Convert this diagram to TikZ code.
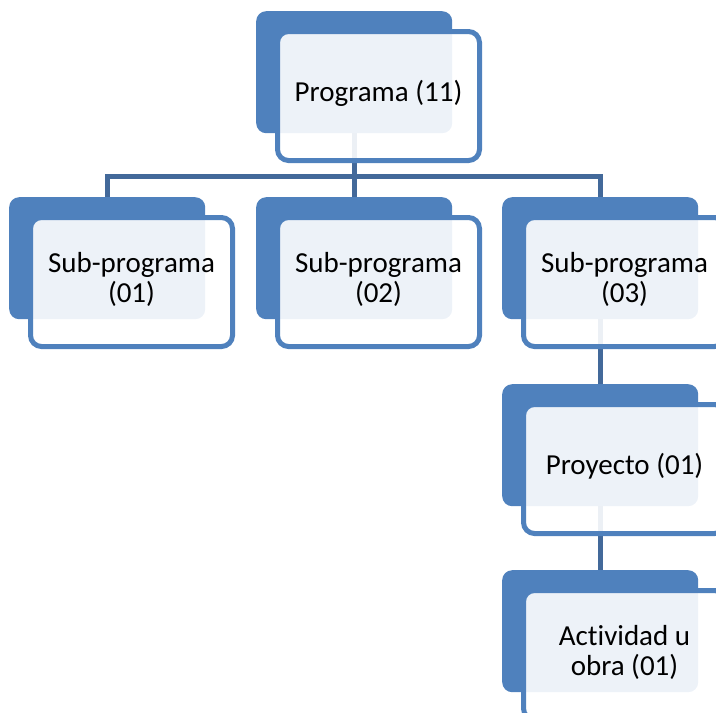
\documentclass[tikz,border=0pt]{standalone}
\usepackage{fontspec}
\setmainfont{Carlito}[Ligatures=NoCommon]
\usetikzlibrary{backgrounds}
\definecolor{accent}{HTML}{4F81BD}
\definecolor{linkblue}{HTML}{43699A}
\tikzset{
  backbox/.style={draw=none, fill=accent, rounded corners=10pt,
    minimum width=196pt, minimum height=122pt, inner sep=0pt, anchor=north west},
  frontbox/.style={draw=accent, line width=5pt, fill=white, fill opacity=0.9,
    text opacity=1, rounded corners=11pt, minimum width=202pt, minimum height=129pt,
    inner sep=0pt, anchor=north west, align=center, text depth=10pt,
    font=\fontsize{29}{30}\selectfont},
  link/.style={draw=linkblue, line width=5pt}
}
\begin{document}
\begin{tikzpicture}[x=1pt, y=-1pt]
  \useasboundingbox (0,0) rectangle (716,713);
  \clip (0,0) rectangle (716,713);

  % shaded back plates
  \node[backbox] (top) at (256,11)  {};
  \node[backbox] (s1)  at (9,197)   {};
  \node[backbox] (s2)  at (256,197) {};
  \node[backbox] (s3)  at (502,197) {};
  \node[backbox] (p1)  at (502,384) {};
  \node[backbox] (a1)  at (502,570) {};

  % framed text boxes in front
  \node[frontbox] (ftop) at (275,29)  {Programa (11)};
  \node[frontbox] (fs1)  at (28,215)  {Sub-programa\\(01)};
  \node[frontbox] (fs2)  at (275,215) {Sub-programa\\(02)};
  \node[frontbox] (fs3)  at (521,215) {Sub-programa\\(03)};
  \node[frontbox] (fp1)  at (521,402) {Proyecto (01)};
  \node[frontbox] (fa1)  at (521,588) {Actividad u\\obra (01)};

  % connectors behind the boxes
  \coordinate (bus) at (0,176);
  \begin{pgfonlayer}{background}
    \draw[link] (top.south) -- (top.south |- bus);
    \draw[link] (s1.north) |- (s3.north |- bus) -- (s3.north);
    \draw[link] (s2.north) -- (s2.north |- bus);
    \draw[link] (s3.south) -- (p1.north);
    \draw[link] (p1.south) -- (a1.north);
  \end{pgfonlayer}
\end{tikzpicture}
\end{document}
